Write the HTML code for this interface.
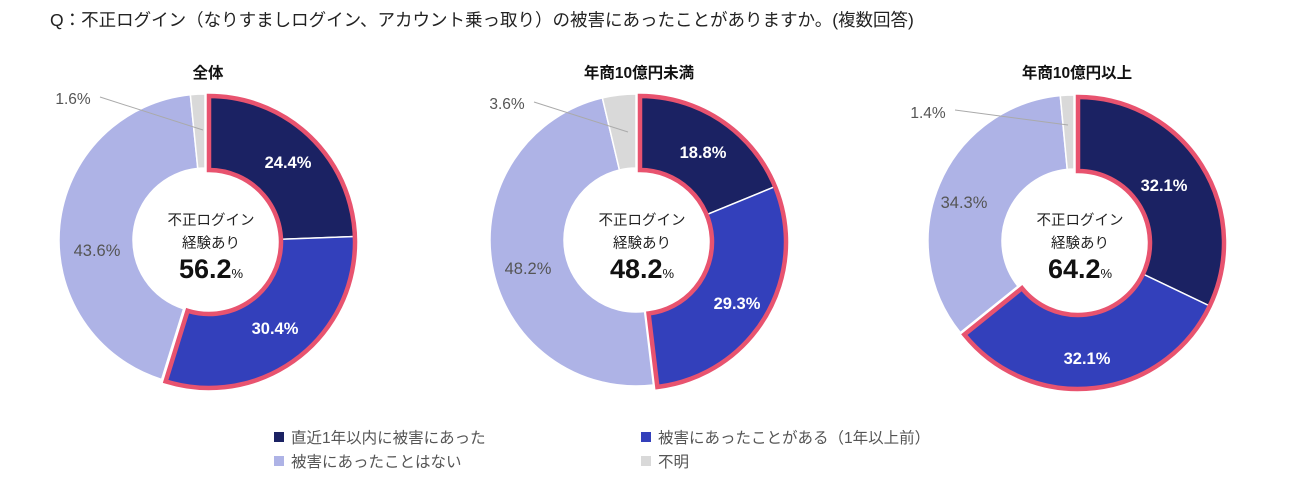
<!DOCTYPE html>
<html><head><meta charset="utf-8"><style>
body{margin:0;background:#fff;width:1300px;height:477px;overflow:hidden;font-family:"Liberation Sans","Noto Sans CJK JP",sans-serif}
svg text{font-family:"Liberation Sans","Noto Sans CJK JP",sans-serif}
</style></head><body>
<svg id="s" width="1300" height="477" xmlns="http://www.w3.org/2000/svg">
<text x="50" y="26" font-size="17.5" fill="#222">Q：不正ログイン（なりすましログイン、アカウント乗っ取り）の被害にあったことがありますか。(複数回答)</text>
<g id="charts"></g>
<g font-size="15.5" fill="#555">
<rect x="274" y="432" width="10" height="10" fill="#1b2263"/><text x="291" y="443">直近1年以内に被害にあった</text>
<rect x="641" y="432" width="10" height="10" fill="#3340bb"/><text x="658" y="443">被害にあったことがある（1年以上前）</text>
<rect x="274" y="456" width="10" height="10" fill="#aeb3e6"/><text x="291" y="467">被害にあったことはない</text>
<rect x="641" y="456" width="10" height="10" fill="#d9d9d9"/><text x="658" y="467">不明</text>
</g>
</svg>
<script>
var C=[
{cx:205,cy:240,t:"全体",v:[24.4,30.4,43.6,1.6],tot:"56.2",lab:[[288,168,"24.4%",1],[275,334,"30.4%",1],[97,256,"43.6%",0]],sm:[73,104,"1.6%",100,97,203,130]},
{cx:636,cy:240,t:"年商10億円未満",v:[18.8,29.3,48.2,3.6],tot:"48.2",lab:[[703,158,"18.8%",1],[737,309,"29.3%",1],[528,274,"48.2%",0]],sm:[507,109,"3.6%",534,102,628,132]},
{cx:1074,cy:241,t:"年商10億円以上",v:[32.1,32.1,34.3,1.4],tot:"64.2",lab:[[1164,191,"32.1%",1],[1087,364,"32.1%",1],[964,208,"34.3%",0]],sm:[928,118,"1.4%",955,110,1068,125]}];
var cols=["#1b2263","#3340bb","#aeb3e6","#d9d9d9"],R=146,r=72,h="";
function pt(cx,cy,rad,p){var a=p/100*2*Math.PI;return [cx+rad*Math.sin(a),cy-rad*Math.cos(a)];}
function arc(cx,cy,p0,p1){var a=pt(cx,cy,R,p0),b=pt(cx,cy,R,p1),c=pt(cx,cy,r,p1),d=pt(cx,cy,r,p0),l=(p1-p0)>50?1:0;
return "M"+a+"A"+R+","+R+" 0 "+l+" 1 "+b+"L"+c+"A"+r+","+r+" 0 "+l+" 0 "+d+"Z";}
C.forEach(function(c){
var s=0,p=[];c.v.forEach(function(v){p.push([s,s+v]);s+=v;});
var ox=c.cx+4,oy=c.cy+2;
h+='<path d="'+arc(c.cx,c.cy,p[2][0],p[2][1])+'" fill="'+cols[2]+'" stroke="#fff" stroke-width="1.5"/>';
h+='<path d="'+arc(c.cx,c.cy,p[3][0],100)+'" fill="'+cols[3]+'" stroke="#fff" stroke-width="1.5"/>';
h+='<path d="'+arc(ox,oy,0,p[0][1])+'" fill="'+cols[0]+'" stroke="#fff" stroke-width="1.5"/>';
h+='<path d="'+arc(ox,oy,p[1][0],p[1][1])+'" fill="'+cols[1]+'" stroke="#fff" stroke-width="1.5"/>';
h+='<path d="'+arc(ox,oy,0,p[1][1])+'" fill="none" stroke="#e8536f" stroke-width="4.5" stroke-linejoin="miter"/>';
h+='<text x="'+(c.cx+3)+'" y="78" font-size="15.5" font-weight="bold" text-anchor="middle" fill="#111">'+c.t+'</text>';
h+='<text x="'+(c.cx+6)+'" y="225" font-size="14.5" text-anchor="middle" fill="#222">不正ログイン</text>';
h+='<text x="'+(c.cx+6)+'" y="248" font-size="14.5" text-anchor="middle" fill="#222">経験あり</text>';
h+='<text x="'+(c.cx+6)+'" y="278" text-anchor="middle" fill="#111"><tspan font-size="27" font-weight="bold">'+c.tot+'</tspan><tspan font-size="13">%</tspan></text>';
c.lab.forEach(function(l){h+='<text x="'+l[0]+'" y="'+l[1]+'" font-size="16.5" text-anchor="middle" '+(l[3]?'font-weight="bold" fill="#fff"':'fill="#555"')+'>'+l[2]+'</text>';});
var m=c.sm;h+='<text x="'+m[0]+'" y="'+m[1]+'" font-size="15.5" text-anchor="middle" fill="#555">'+m[2]+'</text><line x1="'+m[3]+'" y1="'+m[4]+'" x2="'+m[5]+'" y2="'+m[6]+'" stroke="#aaa" stroke-width="1"/>';
});
document.getElementById("charts").innerHTML=h;
</script>
</body></html>
